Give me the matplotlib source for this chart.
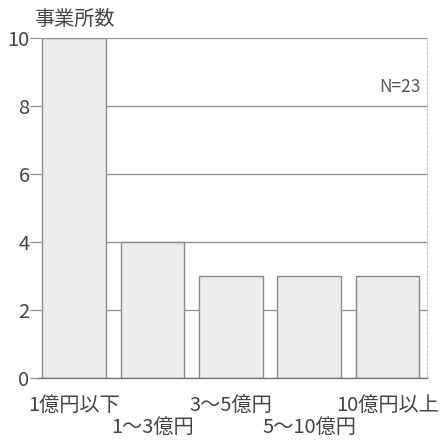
import matplotlib.pyplot as plt

plt.rcParams['font.family'] = ['Noto Sans CJK JP', 'DejaVu Sans']

categories = ['1億円以下', '1〜3億円', '3〜5億円', '5〜10億円', '10億円以上']
counts = [10, 4, 3, 3, 3]
n_total = 23

fig = plt.figure(figsize=(4.46, 4.41), dpi=100)
ax = fig.add_axes([0.085, 0.143, 0.872, 0.771])

x = list(range(len(categories)))
ax.bar(x, counts, width=0.81, color='#ededed', edgecolor='#8a8a8a', linewidth=1.0, zorder=2)

ax.set_xlim(-0.46, 4.5)
ax.set_ylim(0, 10)
ax.set_yticks([0, 2, 4, 6, 8, 10])
ax.yaxis.grid(True, color='#8f8f8f', linewidth=0.9, zorder=0)
ax.set_axisbelow(True)

for side in ['top', 'left']:
    ax.spines[side].set_visible(False)
ax.spines['right'].set_color('#c8c8c8')
ax.spines['right'].set_linestyle((0, (2, 2)))
ax.spines['right'].set_linewidth(0.8)
ax.spines['bottom'].set_color('#777777')
ax.spines['bottom'].set_linewidth(1.0)

ax.tick_params(axis='y', length=6, color='#888888', labelcolor='#444444', labelsize=14.5, pad=0)

# staggered category labels: even ones on the first row, odd ones below
ax.set_xticks(x[0::2], labels=categories[0::2])
ax.set_xticks(x[1::2], labels=categories[1::2], minor=True)
ax.tick_params(axis='x', which='major', length=0, labelsize=14.5, labelcolor='#444444', pad=12)
ax.tick_params(axis='x', which='minor', length=0, labelsize=14.5, labelcolor='#444444', pad=28)

ax.text(4.42, 8.3, 'N=%d' % n_total, ha='right', va='bottom', fontsize=12.5, color='#555555')
fig.text(0.076, 0.955, '事業所数', ha='left', va='center', fontsize=14.5, color='#444444')

fig.savefig('out.png', dpi=100)
